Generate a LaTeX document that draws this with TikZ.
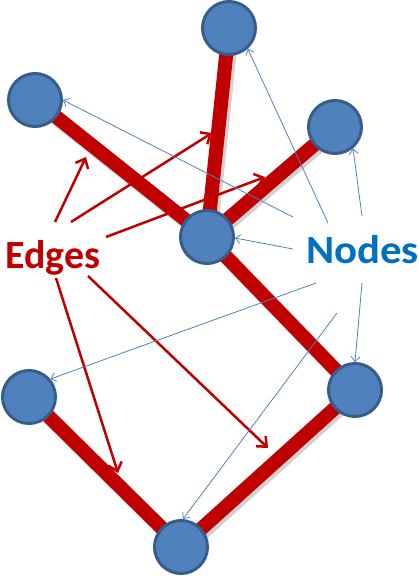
\documentclass[tikz,border=0pt]{standalone}
\usepackage{graphicx}
\usepackage{fontspec}
\newfontfamily\lblfont{Carlito}
\usetikzlibrary{arrows.meta,backgrounds}
\definecolor{edgered}{HTML}{C00000}
\definecolor{vfill}{HTML}{4F81BD}
\definecolor{vdraw}{HTML}{385D8A}
\definecolor{nodeblue}{HTML}{0070C0}
\tikzset{
  vtx/.style={circle, fill=vfill, draw=vdraw, line width=3pt, minimum size=53pt, inner sep=0pt},
  graphedge/.style={draw=edgered, line width=14pt},
  edgeshadow/.style={draw=black!18, line width=15pt, transform canvas={shift={(2.5pt,-2.5pt)}}},
  redarrow/.style={draw=edgered, line width=2.5pt, -{Straight Barb[length=8pt,width=14pt]}},
  bluearrow/.style={draw=vfill, line width=0.8pt, -{Straight Barb[length=5pt,width=9pt]}},
  lbl/.style={font=\lblfont\bfseries\fontsize{40}{44}\selectfont, inner sep=0pt}
}
\begin{document}
\begin{tikzpicture}[x=1pt,y=-1pt]
\useasboundingbox (0,0) rectangle (418,576);
% vertices
\node[vtx] (top) at (229,28) {};
\node[vtx] (lt) at (35,100) {};
\node[vtx] (rt) at (335,127) {};
\node[vtx] (c) at (207,237) {};
\node[vtx] (rl) at (355,390) {};
\node[vtx] (ll) at (29,397) {};
\node[vtx] (b) at (181,547) {};
% edges
\begin{scope}[on background layer]
\path[edgeshadow] (lt.center) -- (c.center) (top.center) -- (c.center) (rt.center) -- (c.center)
  (c.center) -- (rl.center) -- (b.center) -- (ll.center);
\path[graphedge] (lt.center) -- (c.center);
\path[graphedge] (top.center) -- (c.center);
\path[graphedge] (rt.center) -- (c.center);
\path[graphedge] (c.center) -- (rl.center);
\path[graphedge] (rl.center) -- (b.center);
\path[graphedge] (ll.center) -- (b.center);
\end{scope}
% labels
\node[lbl, text=edgered, anchor=base west] (E) at (5,268) {Edges};
\node[lbl, text=nodeblue, anchor=base west] (N) at (306,263) {\scalebox{1.07}[1]{Nodes}};
% red arrows
\coordinate (e1s) at (55,222); \coordinate (e1t) at (86,157);
\coordinate (e2s) at (71,222); \coordinate (e2t) at (212,133);
\coordinate (e3s) at (106,237); \coordinate (e3t) at (265,177);
\coordinate (e4s) at (56,278); \coordinate (e4t) at (118,473);
\coordinate (e5s) at (88,276); \coordinate (e5t) at (268,448);
\draw[redarrow] (e1s) -- (e1t);
\draw[redarrow] (e2s) -- (e2t);
\draw[redarrow] (e3s) -- (e3t);
\draw[redarrow] (e4s) -- (e4t);
\draw[redarrow] (e5s) -- (e5t);
% blue arrows
\coordinate (n1) at (293,217);
\coordinate (n2) at (328,223);
\coordinate (n3) at (362,216);
\coordinate (n4) at (293,249);
\coordinate (n5) at (316,283);
\coordinate (n6) at (362,283);
\coordinate (n7) at (337,313);
\draw[bluearrow] (n1) -- (lt.east);
\draw[bluearrow] (n2) -- (top.-48);
\draw[bluearrow] (n3) -- (rt.-50);
\draw[bluearrow] (n4) -- (c.-2);
\draw[bluearrow] (n5) -- (ll.40);
\draw[bluearrow] (n6) -- (rl.north);
\draw[bluearrow] (n7) -- (b.86);
\end{tikzpicture}
\end{document}
